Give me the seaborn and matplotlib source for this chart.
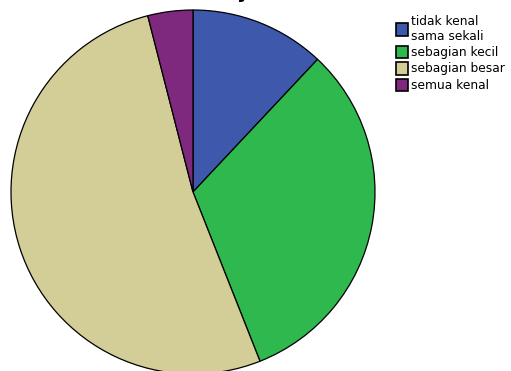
import matplotlib
matplotlib.use("Agg")
import matplotlib.pyplot as plt
import seaborn as sns
from matplotlib.patches import Patch

# Response categories and their counts
categories = ["tidak kenal\nsama sekali", "sebagian kecil", "sebagian besar", "semua kenal"]
counts = [3, 8, 13, 1]
colors = ["#3E58AC", "#2EB84E", "#D3CE97", "#7E287E"]

sns.set_theme(style="white")
plt.rcParams["font.family"] = ["DejaVu Sans"]

W, H = 511, 371
fig = plt.figure(figsize=(W / 100, H / 100), dpi=100)
fig.patch.set_facecolor("white")

# Pie axes placed in pixel terms: centre (193, 192), radius 182
cx, cy, r = 193, 192, 182
ax = fig.add_axes([(cx - r) / W, (H - cy - r) / H, 2 * r / W, 2 * r / H])
ax.pie(
    counts,
    colors=colors,
    startangle=90,
    counterclock=False,
    radius=1.0,
    wedgeprops=dict(edgecolor="black", linewidth=0.9),
)
ax.set_xlim(-1.0, 1.0)
ax.set_ylim(-1.0, 1.0)
ax.set_aspect("equal")
ax.axis("off")

# Title, mostly above the top edge
fig.text(243 / W, 1 + 1.5 / H, "y", ha="center", va="baseline",
         fontsize=14, fontweight="bold", color="black")

handles = [Patch(facecolor=c, edgecolor="black", linewidth=1.2) for c in colors]
leg = fig.legend(
    handles, categories,
    loc="upper left",
    bbox_to_anchor=(387 / W, 1 - 6 / H),
    frameon=False,
    fontsize=8.8,
    handlelength=1.0,
    handleheight=1.2,
    handletextpad=0.3,
    labelspacing=0.25,
    borderpad=0.2,
    labelcolor="black",
)

fig.savefig("out.png", dpi=100)
